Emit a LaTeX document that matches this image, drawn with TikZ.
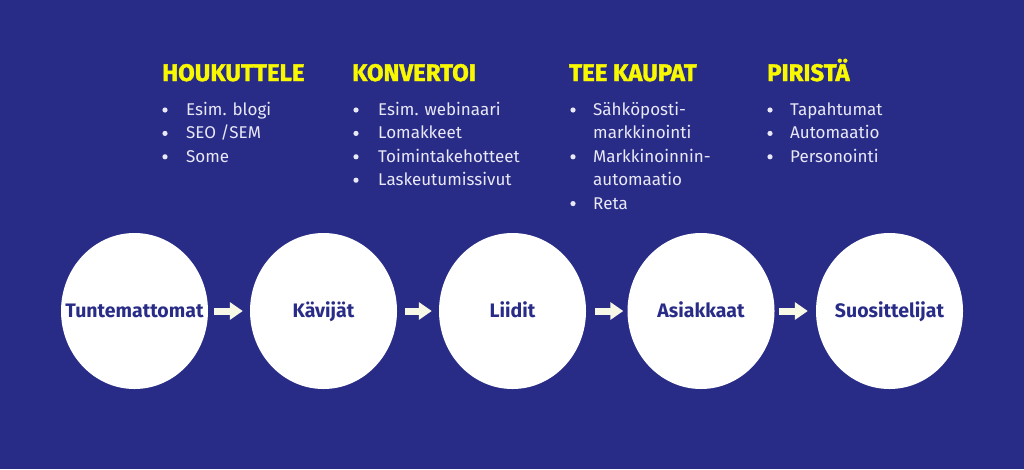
\documentclass[tikz,border=0pt]{standalone}
\usepackage{fontspec}
\setmainfont{Fira Sans}
\newfontfamily\headfont{Fira Sans}[BoldFeatures={FakeBold=1.5}]
\usetikzlibrary{shapes.geometric,arrows.meta}
\definecolor{bgblue}{HTML}{292C87}
\definecolor{headyellow}{HTML}{F8F800}
\definecolor{listwhite}{HTML}{E8E8F6}
\definecolor{arrowcream}{HTML}{F7F8E6}
\tikzset{
  heading/.style={anchor=base west,inner sep=0,text=headyellow,font=\headfont\bfseries\fontsize{24}{26}\selectfont},
  item/.style={anchor=base west,inner sep=0,text=listwhite,font=\fontsize{17}{20}\selectfont},
  dot/.style={circle,fill=listwhite,inner sep=0,minimum size=5.2},
  stage/.style={ellipse,fill=white,inner sep=0,minimum width=147,minimum height=156},
  stagetext/.style={inner sep=0,text=bgblue,font=\bfseries\fontsize{19.5}{21}\selectfont,text height=13.6,text depth=0},
  flow/.style={arrowcream,line width=7,-{Triangle[length=13,width=17]}}
}
\begin{document}
\begin{tikzpicture}[x=1pt,y=-1pt]
\fill[bgblue] (0,0) rectangle (1024,469);
\useasboundingbox (0,0) rectangle (1024,469);
% headings
\node[heading] (h1) at (162,81) {HOUKUTTELE};
\node[heading] (h2) at (352,81) {KONVERTOI};
\node[heading] (h3) at (569,81) {TEE KAUPAT};
\node[heading] (h4) at (767,81) {PIRISTÄ};
% column 1
\node[dot] (b11) at (165,110) {};
\node[item] (t11) at (186,115.5) {Esim. blogi};
\node[dot] (b12) at (165,133.4) {};
\node[item] (t12) at (186,138.9) {SEO /SEM};
\node[dot] (b13) at (165,156.8) {};
\node[item] (t13) at (186,162.3) {Some};
% column 2
\node[dot] (b21) at (356,110) {};
\node[item] (t21) at (378,115.5) {Esim. webinaari};
\node[dot] (b22) at (356,133.4) {};
\node[item] (t22) at (378,138.9) {Lomakkeet};
\node[dot] (b23) at (356,156.8) {};
\node[item] (t23) at (378,162.3) {Toimintakehotteet};
\node[dot] (b24) at (356,180.2) {};
\node[item] (t24) at (378,185.7) {Laskeutumissivut};
% column 3
\node[dot] (b31) at (573,110) {};
\node[item] (t31) at (593,115.5) {Sähköposti-};
\node[item] (t32) at (593,138.9) {markkinointi};
\node[dot] (b33) at (573,156.8) {};
\node[item] (t33) at (593,162.3) {Markkinoinnin-};
\node[item] (t34) at (593,185.7) {automaatio};
\node[dot] (b35) at (573,203.6) {};
\node[item] (t35) at (593,209.1) {Reta};
% column 4
\node[dot] (b41) at (770,110) {};
\node[item] (t41) at (790,115.5) {Tapahtumat};
\node[dot] (b42) at (770,133.4) {};
\node[item] (t42) at (790,138.9) {Automaatio};
\node[dot] (b43) at (770,156.8) {};
\node[item] (t43) at (790,162.3) {Personointi};
% stages
\node[stage,label={[stagetext]center:Tuntemattomat}] (c1) at (134.5,311) {};
\node[stage,label={[stagetext]center:Kävijät}] (c2) at (323.5,311) {};
\node[stage,label={[stagetext]center:Liidit}] (c3) at (512.5,311) {};
\node[stage,label={[stagetext]center:Asiakkaat}] (c4) at (701,311) {};
\node[stage,label={[stagetext]center:Suosittelijat}] (c5) at (889.5,311) {};
% arrows
\draw[flow,shorten <=6,shorten >=7] (c1) -- (c2);
\draw[flow,shorten <=8,shorten >=7] (c2) -- (c3);
\draw[flow,shorten <=9,shorten >=4] (c3) -- (c4);
\draw[flow,shorten <=4,shorten >=8] (c4) -- (c5);
\end{tikzpicture}
\end{document}
